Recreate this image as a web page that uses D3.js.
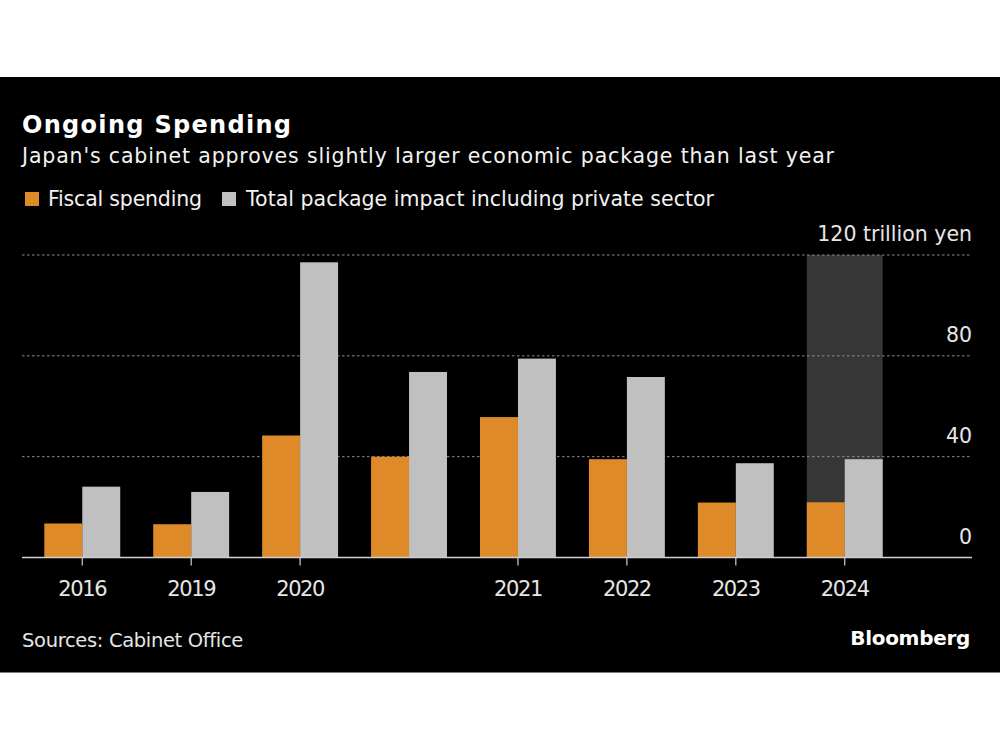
<!DOCTYPE html>
<html>
<head>
<meta charset="utf-8">
<script src="https://cdn.jsdelivr.net/npm/d3@7"></script>
<style>
  html, body { margin: 0; padding: 0; background: #ffffff; }
  svg { display: block; }
  text { font-family: "DejaVu Sans", Verdana, sans-serif; }
</style>
</head>
<body>
<svg id="chart" width="1000" height="750"></svg>
<script>
// ---- data ----
const categories = ["2016", "2019", "2020a", "2020b", "2021", "2022", "2023", "2024"];
const tickLabels = ["2016", "2019", "2020", "", "2021", "2022", "2023", "2024"];
const fiscalSpending = [13.5, 13.2, 48.4, 40.0, 55.7, 39.0, 21.8, 21.9];
const totalPackage = [28.1, 26.0, 117.1, 73.6, 78.9, 71.6, 37.4, 39.0];
const seriesNames = ["Fiscal spending", "Total package impact including private sector"];
const yTicks = [0, 40, 80, 120];
const highlightCategory = "2024";

// ---- layout ----
const svg = d3.select("#chart");
const W = 1000, H = 750;
const panelTop = 77, panelBottom = 672.5;
const colors = { fiscal: "#de8a29", total: "#c0c0c0", highlight: "#363636" };

svg.append("rect").attr("x", 0).attr("y", 0).attr("width", W).attr("height", H).attr("fill", "#ffffff");
svg.append("rect").attr("x", 0).attr("y", panelTop).attr("width", W).attr("height", panelBottom - panelTop).attr("fill", "#000000");

function fit(sel, target) {
  const node = sel.node();
  const n = node.textContent.length;
  const w = node.getComputedTextLength();
  if (n > 1) sel.attr("letter-spacing", ((target - w) / (n - 1)).toFixed(3));
  return sel;
}

// titles
fit(svg.append("text").attr("x", 22).attr("y", 133).attr("fill", "#ffffff")
  .attr("font-size", 24).attr("font-weight", "bold").text("Ongoing Spending"), 269);
fit(svg.append("text").attr("x", 22).attr("y", 163).attr("fill", "#f2f2f2")
  .attr("font-size", 20.5).text("Japan's cabinet approves slightly larger economic package than last year"), 812);

// legend
const legendItems = [
  { name: seriesNames[0], color: colors.fiscal, sx: 25, tx: 48, w: 154 },
  { name: seriesNames[1], color: colors.total, sx: 222, tx: 246, w: 468 }
];
legendItems.forEach(d => {
  svg.append("rect").attr("x", d.sx).attr("y", 192).attr("width", 14).attr("height", 14).attr("fill", d.color);
  fit(svg.append("text").attr("x", d.tx).attr("y", 206).attr("fill", "#f2f2f2")
    .attr("font-size", 20.5).text(d.name), d.w);
});

// scales
const x = d3.scaleBand().domain(categories).range([44.3, 882.7]).paddingInner(0.303).paddingOuter(0);
const xs = d3.scaleBand().domain(["fiscal", "total"]).range([0, x.bandwidth()]).padding(0);
const y = d3.scaleLinear().domain([0, 120]).range([557.5, 255]);

const gridLeft = 22, gridRight = 972;

// highlight
svg.append("rect")
  .attr("x", x(highlightCategory)).attr("width", x.bandwidth())
  .attr("y", y(120)).attr("height", y(0) - y(120))
  .attr("fill", colors.highlight);

// gridlines
svg.append("g").selectAll("line").data(yTicks.filter(t => t > 0)).join("line")
  .attr("x1", gridLeft).attr("x2", gridRight)
  .attr("y1", d => y(d)).attr("y2", d => y(d))
  .attr("stroke", "#8c8c8c").attr("stroke-width", 1).attr("stroke-dasharray", "2.5,2.5");

// y labels (right)
svg.append("g").selectAll("text").data(yTicks).join("text")
  .attr("x", gridRight).attr("y", d => y(d) - 14)
  .attr("text-anchor", "end").attr("fill", "#e6e6e6").attr("font-size", 20.5)
  .text(d => d === 120 ? "120 trillion yen" : d);

// bars
const data = categories.map((c, i) => ({ c, fiscal: fiscalSpending[i], total: totalPackage[i] }));
const groups = svg.append("g").selectAll("g").data(data).join("g")
  .attr("transform", d => `translate(${x(d.c)},0)`);
groups.append("rect")
  .attr("x", xs("fiscal")).attr("width", xs.bandwidth())
  .attr("y", d => y(d.fiscal)).attr("height", d => y(0) - y(d.fiscal))
  .attr("fill", colors.fiscal);
groups.append("rect")
  .attr("x", xs("total")).attr("width", xs.bandwidth())
  .attr("y", d => y(d.total)).attr("height", d => y(0) - y(d.total))
  .attr("fill", colors.total);

// x axis
const xAxis = d3.axisBottom(x).tickSizeOuter(0).tickSizeInner(8).tickPadding(12)
  .tickFormat((d, i) => tickLabels[i]);
const gx = svg.append("g").attr("transform", `translate(0,${y(0)})`).call(xAxis);
gx.select(".domain").remove();
gx.selectAll(".tick").filter((d, i) => tickLabels[i] === "").remove();
gx.selectAll(".tick line").attr("stroke", "#d0d0d0").attr("stroke-width", 1.2);
gx.selectAll(".tick text").attr("fill", "#e6e6e6").attr("font-size", 21)
  .attr("font-family", "DejaVu Sans, sans-serif").attr("dy", null).attr("y", 38.5)
  .attr("letter-spacing", -1.4);
svg.append("line").attr("x1", gridLeft).attr("x2", gridRight).attr("y1", y(0)).attr("y2", y(0))
  .attr("stroke", "#d0d0d0").attr("stroke-width", 1.5);

// footer
fit(svg.append("text").attr("x", 22).attr("y", 647).attr("fill", "#e6e6e6")
  .attr("font-size", 19.5).text("Sources: Cabinet Office"), 221);
svg.append("text").attr("x", 970).attr("y", 645).attr("text-anchor", "end").attr("fill", "#ffffff")
  .attr("font-size", 20).attr("font-weight", "bold").attr("font-family", "Lato, sans-serif")
  .attr("letter-spacing", -0.3).text("Bloomberg");
</script>
</body>
</html>
